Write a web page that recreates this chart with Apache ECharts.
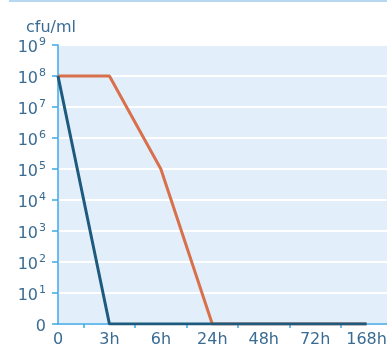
<!DOCTYPE html>
<html><head><meta charset="utf-8">
<script src="https://cdn.jsdelivr.net/npm/echarts@6/dist/echarts.min.js"></script>
<style>html,body{margin:0;padding:0;background:#fff}#c{width:387px;height:349px}</style>
</head><body><div id="c"></div>
<script>
// Sampling times along the x axis
const timepoints = ['0', '3h', '6h', '24h', '48h', '72h', '168h'];
// Counts as powers of ten (level 0 = nothing detected)
const fastKill = [8, 0, 0, 0, 0, 0, 0];
const slowKill = [8, 8, 5, 0, 0, 0, 0];
// Exponents shown on the y axis
const yExponents = [0, 1, 2, 3, 4, 5, 6, 7, 8, 9];

const textColor = '#3a6c93';
const axisColor = '#3fa9e8';
const font = 'DejaVu Sans';

const chart = echarts.init(document.getElementById('c'), null, { renderer: 'canvas' });

const toPoints = arr => arr.map((v, i) => [i, v]);

chart.setOption({
  animation: false,
  textStyle: { fontFamily: font },
  title: {
    text: 'cfu/ml', left: 21, top: 15,
    textStyle: { fontFamily: font, fontSize: 16, fontWeight: 'normal', color: textColor }
  },
  graphic: [{
    type: 'rect', shape: { x: 9, y: 0, width: 378, height: 2 },
    style: { fill: '#b5d7f1' }, silent: true
  }],
  grid: {
    left: 58, top: 45, bottom: 25, right: -31,
    outerBoundsMode: 'none', containLabel: false,
    show: true, backgroundColor: '#e2eefa', borderWidth: 0
  },
  xAxis: {
    type: 'value', min: 0, max: 7, interval: 1,
    axisLine: { show: true, lineStyle: { color: axisColor, width: 1.5 } },
    axisTick: { show: false },
    minorTick: { show: true, splitNumber: 2, length: 4, lineStyle: { color: axisColor, width: 1.5 } },
    splitLine: { show: false },
    axisLabel: {
      margin: 8, color: textColor, fontSize: 16, fontFamily: font,
      formatter: v => (timepoints[v] !== undefined ? timepoints[v] : '')
    }
  },
  yAxis: {
    type: 'value', min: yExponents[0], max: yExponents[yExponents.length - 1], interval: 1,
    axisLine: { show: true, lineStyle: { color: axisColor, width: 1.5 } },
    axisTick: { show: true, length: 6, lineStyle: { color: axisColor, width: 1.5 } },
    splitLine: { show: true, lineStyle: { color: '#ffffff', width: 2 } },
    axisLabel: {
      margin: 12, color: textColor, fontFamily: font,
      formatter: v => (v === 0 ? '{b|0}' : '{b|10}{s|' + v + '}'),
      rich: {
        b: { fontSize: 16, color: textColor, fontFamily: font, padding: [6, 0, 0, 0] },
        s: { fontSize: 11, color: textColor, fontFamily: font, padding: [0, 0, 5, 1] }
      }
    }
  },
  series: [
    {
      name: 'slow', type: 'line', data: toPoints(slowKill), symbol: 'none',
      lineStyle: { color: '#d8714b', width: 3 }, z: 2
    },
    {
      name: 'fast', type: 'line', data: toPoints(fastKill), symbol: 'none',
      lineStyle: { color: '#1d5a7e', width: 3 }, z: 3
    }
  ]
});
</script>
</body></html>
